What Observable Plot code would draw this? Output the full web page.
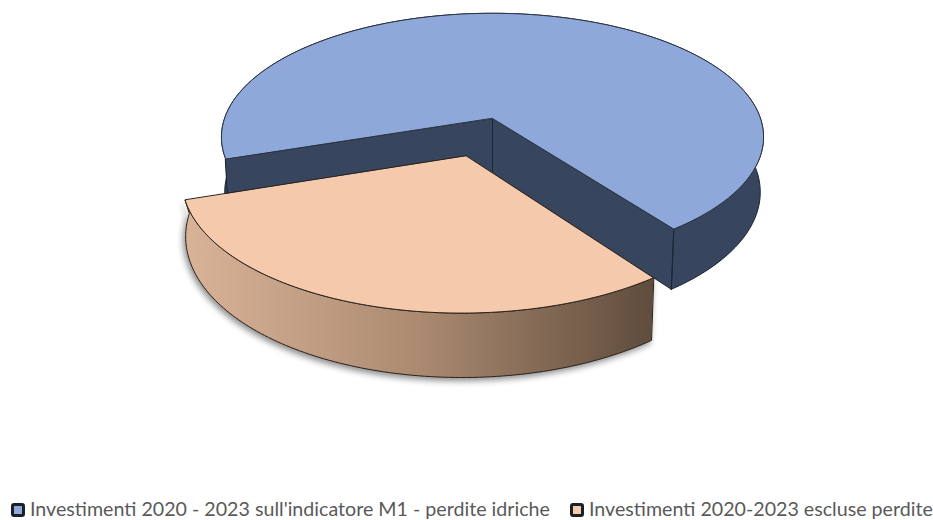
<!DOCTYPE html>
<html>
<head>
<meta charset="utf-8">
<script src="https://cdn.jsdelivr.net/npm/d3@7"></script>
<script src="https://cdn.jsdelivr.net/npm/@observablehq/plot@0.6"></script>
<style>
  html, body { margin: 0; padding: 0; background: #fff; }
  #wrap { position: relative; width: 933px; height: 520px; overflow: hidden; }
  #chart svg { display: block; }
  g[aria-description="orange wall"] { filter: drop-shadow(-2px 3px 3px rgba(0,0,0,.45)); }
  .item { position: absolute; top: 497px; height: 23px; line-height: 23px; white-space: nowrap;
          font-family: Lato, sans-serif; font-size: 19.65px; color: #595959; }
  .sw { position: absolute; top: 6px; width: 8px; height: 8px; border: 3px solid #1b1f26; border-radius: 3px; }
</style>
</head>
<body>
<div id="wrap"><div id="chart"></div></div>
<script>
const categories = ["Investimenti 2020 - 2023 sull'indicatore M1 - perdite idriche", "Investimenti 2020-2023 escluse perdite"];
const shares = [70, 30];
const topColors = ["#8ea8da", "#f5c9ab"];
const wallColors = ["#37465e", "#5f4c3c"];
const explode = [0, 0.31];
const legendX = [11, 570];
const svgHeight = 495;

// Perspective view of a unit disc of unit thickness
const project = ([X, Y, Z]) => {
  const w = 1 - 0.15 * Y + 0.012 * Z;
  return {x: 492 + 268 * X / w, y: 118 + (121 * Y + 55 * Z) / w};
};
const rad = (d) => d * Math.PI / 180;
const total = d3.sum(shares);
const startDeg = 53.5;                       // where the small slice starts
const sweep = shares[1] / total * 360;
const endDeg = startDeg + sweep;
const midDeg = (startDeg + endDeg) / 2;

const centre = (k) => [explode[k] * Math.cos(rad(midDeg)), explode[k] * Math.sin(rad(midDeg))];
const rim = (k, deg, z) => {
  const c = centre(k);
  return project([c[0] + Math.cos(rad(deg)), c[1] + Math.sin(rad(deg)), z]);
};
const axis = (k, z) => project([...centre(k), z]);
const arc = (k, a, b, z) => d3.range(0, 121).map((i) => rim(k, a + (b - a) * i / 120, z));

// slice ranges
const blueFrom = startDeg, blueTo = endDeg - 360;
const orangeFrom = startDeg, orangeTo = endDeg;

const blueOuter = [...arc(0, blueFrom, blueTo, 0), ...arc(0, blueTo, blueFrom, 1)];
const blueInner = [rim(0, blueTo, 0), axis(0, 0), rim(0, blueFrom, 0), rim(0, blueFrom, 1), axis(0, 1), rim(0, blueTo, 1)];
const blueTop = [axis(0, 0), ...arc(0, blueFrom, blueTo, 0)];
const orangeOuter = [...arc(1, orangeFrom, orangeTo, 0), ...arc(1, orangeTo + 18, orangeFrom, 1)];
const orangeTop = [axis(1, 0), ...arc(1, orangeFrom, orangeTo, 0)];

const poly = (pts, fill, stroke, label) => Plot.line(pts, {
  x: "x", y: "y", fill, stroke, strokeWidth: 1, curve: "linear-closed", ariaDescription: label, strokeLinejoin: "round"
});
const edge = (pts, stroke) => Plot.line(pts, {x: "x", y: "y", stroke, strokeWidth: 1});

const chart = Plot.plot({
  width: 933, height: svgHeight, margin: 0,
  x: {domain: [0, 933], range: [0, 933], axis: null},
  y: {domain: [0, svgHeight], range: [0, svgHeight], axis: null},
  style: {background: "#fff"},
  marks: [
    () => {
      const defs = d3.create("svg:defs");
      const g = defs.append("linearGradient").attr("id", "wallGrad")
        .attr("x1", 0).attr("x2", 1).attr("y1", 0).attr("y2", 0);
      g.append("stop").attr("offset", "0%").attr("stop-color", "#d9b398");
      g.append("stop").attr("offset", "50%").attr("stop-color", "#ab8a71");
      g.append("stop").attr("offset", "100%").attr("stop-color", wallColors[1]);
      return defs.node();
    },
    poly(blueOuter, wallColors[0], "#1d2733", "blue wall"),
    poly(blueInner, wallColors[0], "#1d2733", "blue inner wall"),
    edge([axis(0, 0), axis(0, 1)], "#1d2733"),
    edge([rim(0, blueFrom, 0), rim(0, blueFrom, 1)], "#1d2733"),
    poly(blueTop, topColors[0], "#2b3442", "blue top"),
    poly(orangeOuter, "url(#wallGrad)", "#2a211a", "orange wall"),
    poly(orangeTop, topColors[1], "#2a211a", "orange top")
  ]
});
document.getElementById("chart").appendChild(chart);

const wrap = document.getElementById("wrap");
categories.forEach((c, i) => {
  const it = document.createElement("div");
  it.className = "item";
  it.style.left = legendX[i] + "px";
  const sw = document.createElement("span");
  sw.className = "sw";
  sw.style.left = "0px";
  sw.style.background = topColors[i];
  const t = document.createElement("span");
  t.textContent = c;
  t.style.marginLeft = "19px";
  it.append(sw, t);
  wrap.appendChild(it);
});
</script>
</body>
</html>
